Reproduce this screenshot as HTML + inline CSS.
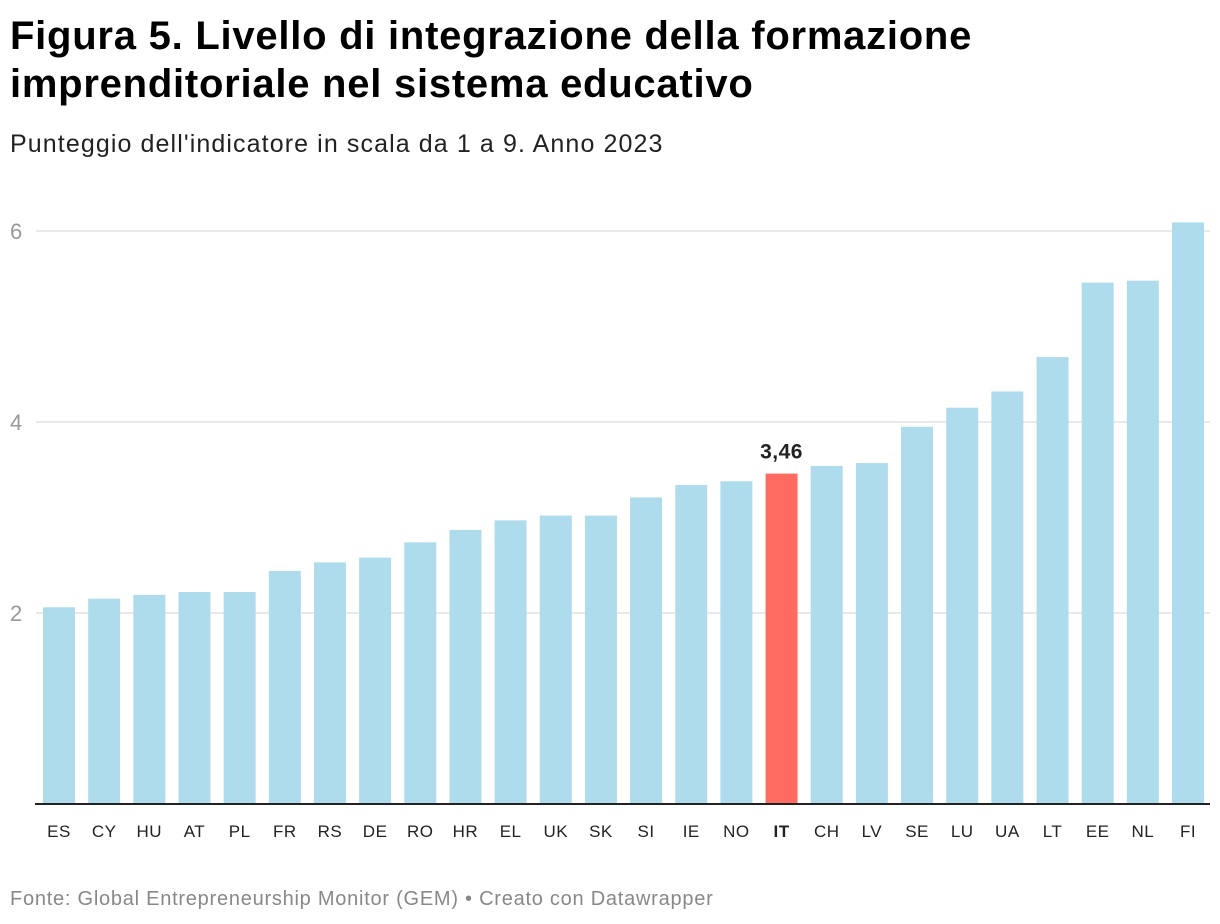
<!DOCTYPE html>
<html><head><meta charset="utf-8"><style>
body{margin:0;background:#fff;width:1220px;height:924px;overflow:hidden;font-family:"Liberation Sans",Arial,sans-serif}
h1{position:absolute;left:10px;top:12px;margin:0;font-size:40px;line-height:48px;font-weight:bold;color:#000;letter-spacing:0.75px;white-space:nowrap}
.sub{position:absolute;left:10px;top:130px;font-size:25px;color:#222;letter-spacing:1.1px;white-space:nowrap}
.foot{position:absolute;left:10px;top:888px;font-size:20px;color:#888;letter-spacing:0.75px;white-space:nowrap}
svg{position:absolute;left:0;top:0}
</style></head><body>
<h1>Figura 5. Livello di integrazione della formazione<br>imprenditoriale nel sistema educativo</h1>
<div class="sub">Punteggio dell'indicatore in scala da 1 a 9. Anno 2023</div>
<div class="foot">Fonte: Global Entrepreneurship Monitor (GEM) • Creato con Datawrapper</div>
<svg id="c" width="1220" height="924"></svg>
<script>
const categories=["ES","CY","HU","AT","PL","FR","RS","DE","RO","HR","EL","UK","SK","SI","IE","NO","IT","CH","LV","SE","LU","UA","LT","EE","NL","FI"];
const values=[2.06,2.15,2.19,2.22,2.22,2.44,2.53,2.58,2.74,2.87,2.97,3.02,3.02,3.21,3.34,3.38,3.46,3.54,3.57,3.95,4.15,4.32,4.68,5.46,5.48,6.09];
const ticks=[2,4,6];
const highlight="IT";
const svg=document.getElementById('c');
const NS="http://www.w3.org/2000/svg";
const y0=804, pxPerUnit=95.5, x0=43, pitch=45.16, bw=32;
const y=v=>y0-v*pxPerUnit;
const x=i=>x0+i*pitch;
function mk(t,a){const e=document.createElementNS(NS,t);for(const k in a)e.setAttribute(k,a[k]);svg.appendChild(e);return e;}
ticks.forEach(t=>{
 const g=mk('line',{x1:36,x2:1210,y1:y(t),y2:y(t),stroke:'#e2e2e2','stroke-width':1.5});
 
 
 const l=mk('text',{x:10,y:y(t)+8,'font-size':22,fill:'#999'});l.textContent=t;
 
 
});
categories.forEach((c,i)=>{
 const hi=c===highlight;
 const r=mk('rect',{x:x(i),y:y(values[i]),width:bw,height:y0-y(values[i]),fill:hi?'#ff6b61':'#aedcec'});
 
 
 const t=mk('text',{x:x(i)+bw/2,y:837,'font-size':17,'text-anchor':'middle',fill:'#222','font-weight':hi?'bold':'normal','letter-spacing':0.5});t.textContent=c;
 
 
 if(hi){const v=mk('text',{x:x(i)+bw/2,y:y(values[i])-15,'font-size':21,'font-weight':'bold','text-anchor':'middle',fill:'#222','letter-spacing':0.5});v.textContent=values[i].toFixed(2).replace('.',',');
 
 }
});
const b=mk('line',{x1:35,x2:1210,y1:y0,y2:y0,stroke:'#222','stroke-width':2});


</script>
</body></html>
